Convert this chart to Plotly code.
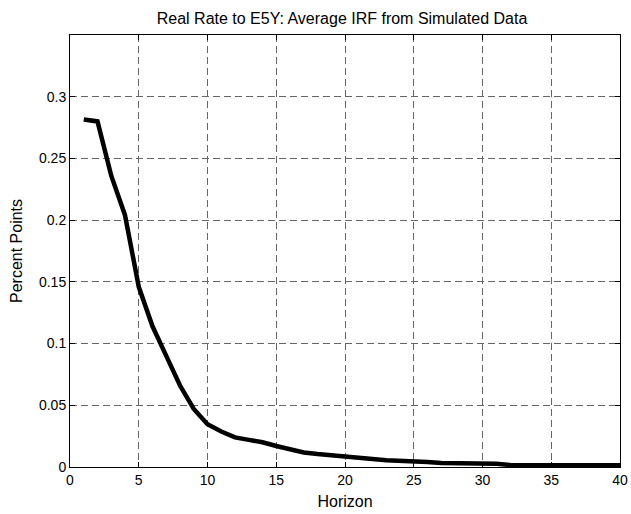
import plotly.graph_objects as go

horizon = list(range(1, 41))
irf = [0.2815, 0.2800, 0.2360, 0.2040, 0.1460, 0.1140, 0.0900, 0.0660, 0.0470, 0.0347,
       0.0288, 0.0240, 0.0220, 0.0200, 0.0170, 0.0140, 0.0118, 0.0105, 0.0097, 0.0086,
       0.0076, 0.0065, 0.0054, 0.0051, 0.0043, 0.0040, 0.0032, 0.0030, 0.0030, 0.0030,
       0.0027, 0.0016, 0.0015, 0.0015, 0.0015, 0.0015, 0.0015, 0.0015, 0.0015, 0.0015]

x_ticks = [0, 5, 10, 15, 20, 25, 30, 35, 40]
y_ticks = [0, 0.05, 0.1, 0.15, 0.2, 0.25, 0.3]
y_tick_labels = ["0", "0.05", "0.1", "0.15", "0.2", "0.25", "0.3"]

FONT = "Liberation Sans, Arial, sans-serif"

fig = go.Figure()
fig.add_trace(go.Scatter(x=horizon, y=irf, mode="lines",
                         line=dict(color="black", width=4.5),
                         showlegend=False, cliponaxis=False))

axis_common = dict(
    showline=True, linecolor="black", linewidth=1, mirror="ticks",
    ticks="inside", ticklen=5, tickcolor="black", tickwidth=1,
    showgrid=True, gridcolor="#666666", gridwidth=1, griddash="7px,4px",
    zeroline=False, automargin=False,
    tickfont=dict(family=FONT, size=14, color="black"),
)

fig.update_layout(
    width=631, height=514,
    margin=dict(l=70, r=11, t=35, b=47),
    paper_bgcolor="white", plot_bgcolor="white",
    title=dict(text="Real Rate to E5Y: Average IRF from Simulated Data",
               x=342 / 631, xref="container", xanchor="center",
               y=1 - 18 / 514, yref="container", yanchor="middle",
               font=dict(family=FONT, size=16, color="black")),
    xaxis=dict(range=[0, 40], tickvals=x_ticks, ticktext=[str(v) for v in x_ticks],
               title=dict(text="Horizon", standoff=9,
                          font=dict(family=FONT, size=16, color="black")),
               **axis_common),
    yaxis=dict(range=[0, 0.35], tickvals=y_ticks, ticktext=y_tick_labels,
               title=dict(text="Percent Points", standoff=12,
                          font=dict(family=FONT, size=16, color="black")),
               **axis_common),
)

fig.write_html("out.html")
